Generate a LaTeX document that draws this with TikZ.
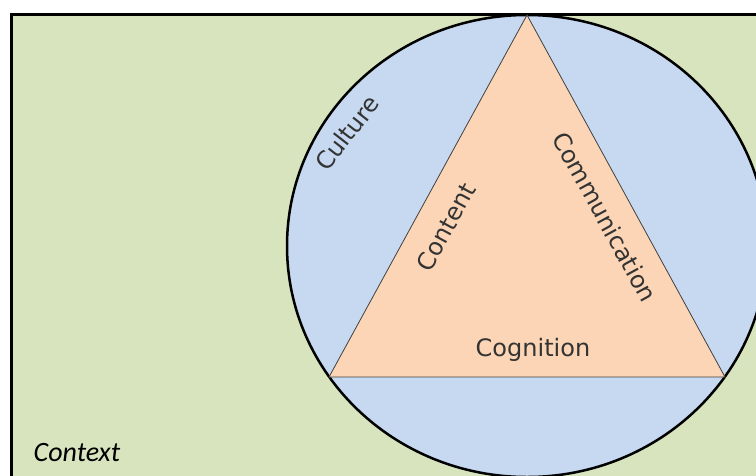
\documentclass[tikz,border=0pt]{standalone}
\usepackage{fontspec}
\setmainfont{DejaVu Sans}
\newfontfamily\ctxfont{Carlito}
\definecolor{ctxgreen}{HTML}{D7E4BD}
\definecolor{culblue}{HTML}{C6D9F1}
\definecolor{corepeach}{HTML}{FBD5B5}

\begin{document}
\begin{tikzpicture}[x=1pt,y=-1pt,
  lbl/.style={font=\fontsize{24}{28}\selectfont,text=black!80,inner sep=0pt}]
  \useasboundingbox (0,0) rectangle (756,475);
  \clip (0,0) rectangle (756,475);
  \fill[white] (0,0) rectangle (756,475);
  % context box, runs off the page
  \draw[line width=3,fill=ctxgreen] (11,14) rectangle (800,520);
  \coordinate (M) at (527,246);
  \coordinate (T) at (527,15);
  \coordinate (L) at (329,377);
  \coordinate (R) at (725,377);
  \draw[line width=2.5,fill=culblue] (M) ellipse [x radius=240,y radius=231];
  \draw[draw=black!75,line width=0.8,fill=corepeach] (T) -- (L) -- (R) -- cycle;
  \node[lbl,rotate=52] (culture) at (347,133) {Culture};
  \node[lbl,rotate=61.3] (content) at (446,227) {Content};
  \node[lbl,rotate=-61.3] (communication) at (605,217) {Communication};
  \node[lbl] (cognition) at (533,350) {Cognition};
  \node[inner sep=0pt,font=\ctxfont\itshape\fontsize{28}{32}\selectfont] (context) at (77,453) {Context};
\end{tikzpicture}
\end{document}
